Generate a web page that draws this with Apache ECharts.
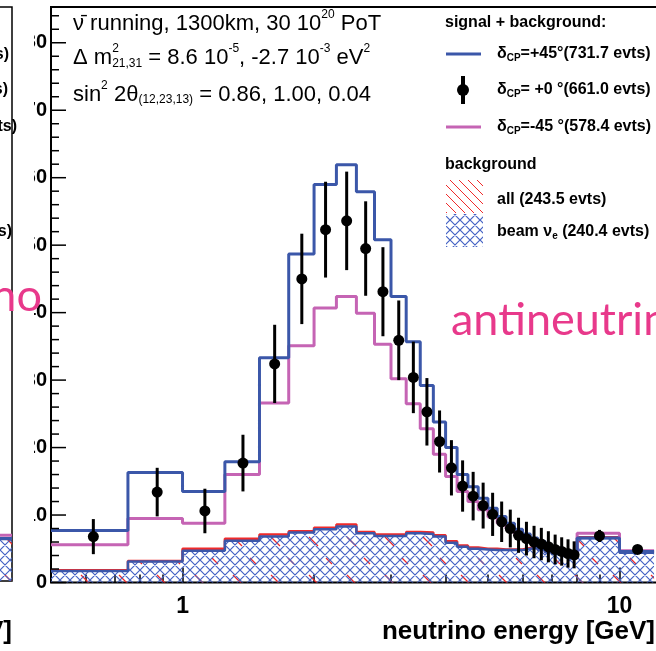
<!DOCTYPE html>
<html>
<head>
<meta charset="utf-8">
<script src="https://cdn.jsdelivr.net/npm/echarts@6/dist/echarts.min.js"></script>
<style>
  html, body { margin: 0; padding: 0; background: #fff; }
  #chart { width: 656px; height: 651px; }
</style>
</head>
<body>
<div id="chart"></div>
<script>
// bin edges [GeV]: 0.25 GeV bins up to 8, then two wide bins
const binEdges = [0.5, 0.75, 1.0, 1.25, 1.5, 1.75, 2.0, 2.25, 2.5, 2.75, 3.0, 3.25, 3.5, 3.75, 4.0,
  4.25, 4.5, 4.75, 5.0, 5.25, 5.5, 5.75, 6.0, 6.25, 6.5, 6.75, 7.0, 7.25, 7.5, 7.75, 8.0, 10, 12];

// signal + background, dCP = +45 (blue)
const sigPlus45 = [7.7, 16.3, 13.5, 17.9, 33.3, 48.7, 59.0, 61.9, 57.9, 50.8,
  42.4, 35.7, 29.2, 23.8, 20.0, 16.0, 14.2, 12.5, 11.0, 9.8,
  8.8, 7.9, 7.2, 6.6, 6.1, 5.6, 5.2, 4.8, 4.5, 4.2, 6.6, 4.6];
// signal + background, dCP = -45 (pink)
const sigMinus45 = [5.6, 9.5, 8.8, 16.0, 26.6, 35.1, 40.7, 42.4, 39.9, 35.3,
  30.2, 26.5, 22.8, 19.0, 15.7, 13.5, 12.0, 10.8, 9.7, 8.8,
  8.0, 7.2, 6.6, 6.1, 5.7, 5.3, 4.9, 4.6, 4.4, 4.2, 7.3, 4.7];
// dCP = 0, drawn as points with error bars
const sigZero = [6.8, 13.4, 10.6, 17.7, 32.4, 45.0, 52.3, 53.6, 49.5, 43.1,
  35.9, 30.4, 25.3, 20.9, 17.0, 14.3, 12.8, 11.4, 10.1, 9.0,
  8.0, 7.0, 6.5, 6.0, 5.7, 5.3, 4.9, 4.6, 4.3, 4.1, 6.9, 4.9];
const sigZeroErr = [2.6, 3.6, 3.3, 4.2, 5.8, 6.7, 7.1, 7.3, 7.0, 6.6,
  5.9, 5.3, 5.0, 4.6, 4.1, 3.8, 3.6, 3.4, 3.2, 3.0,
  2.8, 2.6, 2.5, 2.4, 2.4, 2.3, 2.2, 2.1, 2.1, 2.0, 0.9, 0.6];
// backgrounds
const bgAll = [1.8, 3.2, 5.0, 6.5, 7.1, 7.6, 8.1, 8.6, 7.5, 7.1,
  7.1, 7.5, 7.4, 7.0, 6.1, 5.5, 5.2, 5.0, 5.0, 4.9,
  4.9, 4.9, 5.1, 5.2, 4.9, 4.6, 4.3, 4.1, 3.9, 3.7, 6.7, 4.6];
const bgBeamNue = [1.7, 3.1, 4.7, 6.2, 6.8, 7.4, 7.9, 8.3, 7.3, 6.9,
  6.9, 7.3, 7.2, 6.8, 5.9, 5.3, 5.0, 4.9, 4.8, 4.8,
  4.8, 4.8, 5.0, 5.1, 4.8, 4.5, 4.2, 4.0, 3.8, 3.6, 6.6, 4.4];

// neighbouring (neutrino) panel, only its last bin shows
const leftEdges = [12, 20];
const leftSigPlus45 = [6.3];
const leftSigMinus45 = [6.8];
const leftBgAll = [6.4];
const leftBgBeamNue = [6.2];

const xMajorTicks = [1, 10];
const xMinorTicks = [0.6, 0.7, 0.8, 0.9, 2, 3, 4, 5, 6, 7, 8, 9, 20];
const yMajorTicks = [0, 10, 20, 30, 40, 50, 60, 70, 80];
const yMinorTicks = [2, 4, 6, 8, 12, 14, 16, 18, 22, 24, 26, 28, 32, 34, 36, 38, 42, 44, 46, 48,
  52, 54, 56, 58, 62, 64, 66, 68, 72, 74, 76, 78, 82, 84];
const yMax = 85.3;

const BLUE = '#3b57a9';
const PINK = '#c564b4';
const RED = '#f02a2a';
const HATCH_BLUE = '#4563c4';
const FONT = "'Liberation Sans', Arial, sans-serif";

// hatch patterns
function hatch(size, color, width, back, fwd) {
  const c = document.createElement('canvas');
  c.width = size; c.height = size;
  const g = c.getContext('2d');
  g.strokeStyle = color;
  g.lineWidth = width;
  g.beginPath();
  if (back) {
    g.moveTo(-1, -1); g.lineTo(size + 1, size + 1);
    g.moveTo(-1, size - 1); g.lineTo(1, size + 1);
    g.moveTo(size - 1, -1); g.lineTo(size + 1, 1);
  }
  if (fwd) {
    g.moveTo(-1, size + 1); g.lineTo(size + 1, -1);
    g.moveTo(-1, 1); g.lineTo(1, -1);
    g.moveTo(size - 1, size + 1); g.lineTo(size + 1, size - 1);
  }
  g.stroke();
  return { image: c, repeat: 'repeat' };
}
// red hatch mostly hidden under the cross-hatch: only short pieces show
function brokenHatch(size, color) {
  const c = document.createElement('canvas');
  c.width = size; c.height = size;
  const g = c.getContext('2d');
  g.strokeStyle = color;
  g.lineWidth = 1.3;
  g.beginPath();
  g.moveTo(5, 5); g.lineTo(14, 14);
  g.moveTo(22, 26); g.lineTo(28, 32);
  g.stroke();
  return { image: c, repeat: 'repeat' };
}
const redHatch = hatch(9, RED, 1, true, false);
const redHatchHidden = brokenHatch(38, RED);
const blueCross = hatch(10, HATCH_BLUE, 1.2, true, true);

function stepPoints(edges, vals) {
  const pts = vals.map((v, i) => [Math.log10(edges[i]), v]);
  pts.push([Math.log10(edges[edges.length - 1]), vals[vals.length - 1]]);
  return pts;
}

function hist(edges, vals, color, width, xi, yi, z, fill) {
  const s = {
    type: 'line', step: 'end', xAxisIndex: xi, yAxisIndex: yi,
    data: stepPoints(edges, vals), symbol: 'none', silent: true, z: z,
    lineStyle: { color: color, width: width }, itemStyle: { color: color }
  };
  if (fill) s.areaStyle = { color: fill, opacity: 1 };
  return s;
}

const measure = document.createElement('canvas').getContext('2d');
function textWidth(str, font) {
  measure.font = font;
  return measure.measureText(str).width;
}

const xMin = Math.log10(0.5), xMax = Math.log10(20);

const pointData = sigZero.map((v, i) => [Math.log10((binEdges[i] + binEdges[i + 1]) / 2), v, sigZeroErr[i]]);

const chart = echarts.init(document.getElementById('chart'));

const tickStyle = { color: '#000', width: 1.5 };

const infoRich = {
  t: { fontFamily: FONT, fontSize: 22, fill: '#000', lineHeight: 26, verticalAlign: 'bottom' },
  sup: { fontFamily: FONT, fontSize: 12, fill: '#000', lineHeight: 12, verticalAlign: 'top' },
  sub: { fontFamily: FONT, fontSize: 12, fill: '#000', lineHeight: 8, verticalAlign: 'bottom' }
};
// stacked super/subscript on m
const subFont = '12px ' + FONT;
const mWidth = textWidth('Δ m', '22px ' + FONT);
const stackGap = Math.max(0, textWidth('21,31', subFont) - textWidth('2', subFont));
infoRich.gap = { width: stackGap, lineHeight: 26 };

const legendRich = {
  b: { font: 'bold 16px ' + FONT, fill: '#000' },
  s: { font: 'bold 10px ' + FONT, fill: '#000', padding: [8, 0, 0, 0] }
};

const graphics = [
  // the neighbouring picture overlaps the first digits of the y labels
  { type: 'rect', z: 1, shape: { x: 13, y: 0, width: 21, height: 651 }, style: { fill: '#fff' } },
  // info text, top left
  {
    type: 'text', x: 73, y: 9, z: 20,
    style: { text: '{t|ν̄ running, 1300km, 30 10}{sup|20}{t| PoT}', rich: infoRich }
  },
  {
    type: 'text', x: 73, y: 43, z: 20,
    style: { text: '{t|Δ m}{sup|2}{gap|}{t| = 8.6 10}{sup|-5}{t|, -2.7 10}{sup|-3}{t| eV}{sup|2}', rich: infoRich }
  },
  {
    type: 'text', x: 73 + mWidth, y: 64, z: 20,
    style: { text: '21,31', font: subFont, fill: '#000', verticalAlign: 'middle' }
  },
  {
    type: 'text', x: 73, y: 80, z: 20,
    style: { text: '{t|sin}{sup|2}{t| 2θ}{sub|(12,23,13)}{t| = 0.86, 1.00, 0.04}', rich: infoRich }
  },
  // legend
  { type: 'text', x: 445, y: 23, z: 20, style: { text: 'signal + background:', font: 'bold 16px ' + FONT, fill: '#000', verticalAlign: 'middle' } },
  { type: 'line', z: 20, shape: { x1: 446, y1: 54, x2: 481, y2: 54 }, style: { stroke: BLUE, lineWidth: 3 } },
  { type: 'text', x: 497, y: 54, z: 20, style: { text: '{b|δ}{s|CP}{b|=+45°(731.7 evts)}', verticalAlign: 'middle', rich: legendRich } },
  { type: 'line', z: 20, shape: { x1: 463, y1: 76, x2: 463, y2: 104 }, style: { stroke: '#000', lineWidth: 4 } },
  { type: 'circle', z: 20, shape: { cx: 463, cy: 90, r: 6 }, style: { fill: '#000' } },
  { type: 'text', x: 497, y: 90, z: 20, style: { text: '{b|δ}{s|CP}{b|= +0 °(661.0 evts)}', verticalAlign: 'middle', rich: legendRich } },
  { type: 'line', z: 20, shape: { x1: 446, y1: 127, x2: 481, y2: 127 }, style: { stroke: PINK, lineWidth: 3 } },
  { type: 'text', x: 497, y: 127, z: 20, style: { text: '{b|δ}{s|CP}{b|=-45 °(578.4 evts)}', verticalAlign: 'middle', rich: legendRich } },
  { type: 'text', x: 445, y: 165, z: 20, style: { text: 'background', font: 'bold 16px ' + FONT, fill: '#000', verticalAlign: 'middle' } },
  { type: 'rect', z: 20, shape: { x: 446, y: 180, width: 37, height: 33 }, style: { fill: redHatch } },
  { type: 'text', x: 497, y: 200, z: 20, style: { text: 'all (243.5 evts)', font: 'bold 16px ' + FONT, fill: '#000', verticalAlign: 'middle' } },
  { type: 'rect', z: 20, shape: { x: 446, y: 214, width: 37, height: 33 }, style: { fill: blueCross } },
  { type: 'text', x: 497, y: 232, z: 20, style: { text: '{b|beam ν}{s|e}{b| (240.4 evts)}', verticalAlign: 'middle', rich: legendRich } },
  // axis title
  { type: 'text', x: 655, y: 632, z: 20, style: { text: 'neutrino energy [GeV]', font: 'bold 26px ' + FONT, fill: '#000', align: 'right', verticalAlign: 'middle' } },
  // fragments of the neighbouring panel
  { type: 'text', x: 12, y: 632, z: 20, style: { text: 'neutrino energy [GeV]', font: 'bold 26px ' + FONT, fill: '#000', align: 'right', verticalAlign: 'middle' } },
  { type: 'text', x: 9, y: 55, z: 20, style: { text: '(781.4 evts)', font: 'bold 16px ' + FONT, fill: '#000', align: 'right', verticalAlign: 'middle' } },
  { type: 'text', x: 8, y: 90, z: 20, style: { text: '(670.0 evts)', font: 'bold 16px ' + FONT, fill: '#000', align: 'right', verticalAlign: 'middle' } },
  { type: 'text', x: 17, y: 127, z: 20, style: { text: '(560.5 evts)', font: 'bold 16px ' + FONT, fill: '#000', align: 'right', verticalAlign: 'middle' } },
  { type: 'text', x: 12, y: 232, z: 20, style: { text: '(150.4 evts)', font: 'bold 16px ' + FONT, fill: '#000', align: 'right', verticalAlign: 'middle' } },
  // slide labels
  { type: 'text', x: 42, y: 296, z: 30, style: { text: 'neutrino', font: '45px Lato, sans-serif', fill: '#e8398b', align: 'right', verticalAlign: 'middle' } },
  { type: 'text', x: 451, y: 320, z: 30, style: { text: 'antineutrino', font: '45px Lato, sans-serif', fill: '#e8398b', align: 'left', verticalAlign: 'middle' } }
];

const option = {
  animation: false,
  backgroundColor: '#fff',
  grid: [
    { left: 51, top: 7, right: -95, bottom: 68.5, show: true, borderColor: '#000', borderWidth: 2,
      backgroundColor: 'transparent', containLabel: false, outerBoundsMode: 'none' },
    { left: -688, top: 7, right: 644, bottom: 70, show: true, borderColor: '#000', borderWidth: 1.5,
      backgroundColor: 'transparent', containLabel: false, outerBoundsMode: 'none' }
  ],
  xAxis: [
    {
      gridIndex: 0, type: 'value', min: xMin, max: xMax, position: 'bottom',
      axisLine: { show: false, onZero: false }, splitLine: { show: false },
      axisTick: { show: true, inside: true, length: 15, lineStyle: tickStyle, customValues: xMajorTicks.map(Math.log10) },
      axisLabel: {
        customValues: xMajorTicks.map(Math.log10), margin: 13,
        formatter: v => String(Math.round(Math.pow(10, v))),
        color: '#000', fontFamily: FONT, fontWeight: 'bold', fontSize: 23
      }
    },
    {
      gridIndex: 0, type: 'value', min: xMin, max: xMax, position: 'bottom',
      axisLine: { show: false, onZero: false }, splitLine: { show: false }, axisLabel: { show: false },
      axisTick: { show: true, inside: true, length: 8, lineStyle: tickStyle, customValues: xMinorTicks.map(Math.log10) }
    },
    { gridIndex: 1, type: 'value', min: xMin, max: xMax, show: false, axisLine: { onZero: false } }
  ],
  yAxis: [
    {
      gridIndex: 0, type: 'value', min: 0, max: yMax, interval: 10, position: 'left',
      axisLine: { show: false, onZero: false }, splitLine: { show: false },
      axisTick: { show: false },
      axisLabel: {
        showMaxLabel: false, margin: 4, padding: [12, 0, 0, 0],
        color: '#000', fontFamily: FONT, fontWeight: 'bold', fontSize: 20
      }
    },
    { gridIndex: 1, type: 'value', min: 0, max: yMax, show: false, axisLine: { onZero: false } }
  ],
  series: [
    hist(binEdges, bgAll, RED, 2.5, 0, 0, 2, redHatchHidden),
    hist(binEdges, bgBeamNue, BLUE, 2.5, 0, 0, 3, blueCross),
    hist(binEdges, sigMinus45, PINK, 3, 0, 0, 4),
    hist(binEdges, sigPlus45, BLUE, 3, 0, 0, 5),
    {
      type: 'custom', xAxisIndex: 0, yAxisIndex: 0, z: 6, silent: true,
      data: pointData,
      renderItem: function (params, api) {
        const x = api.value(0), y = api.value(1), e = api.value(2);
        const p = api.coord([x, y]);
        const hi = api.coord([x, y + e]);
        const lo = api.coord([x, Math.max(0, y - e)]);
        return {
          type: 'group', children: [
            { type: 'line', shape: { x1: p[0], y1: hi[1], x2: p[0], y2: lo[1] }, style: { stroke: '#000', lineWidth: 3 } },
            { type: 'circle', shape: { cx: p[0], cy: p[1], r: 5.5 }, style: { fill: '#000' } }
          ]
        };
      }
    },
    hist(leftEdges, leftBgAll, RED, 2, 2, 1, 8, redHatchHidden),
    hist(leftEdges, leftBgBeamNue, BLUE, 2, 2, 1, 9, blueCross),
    hist(leftEdges, leftSigMinus45, PINK, 3, 2, 1, 10),
    hist(leftEdges, leftSigPlus45, BLUE, 3, 2, 1, 11)
  ],
  graphic: graphics
};

chart.setOption(option);

// inward y ticks (ROOT style), placed through the y axis scale
const yTicks = [];
function addTick(v, len) {
  const p = chart.convertToPixel({ gridIndex: 0 }, [xMin, v]);
  if (!p) return;
  yTicks.push({ type: 'line', z: 25, shape: { x1: p[0], y1: p[1], x2: p[0] + len, y2: p[1] }, style: { stroke: '#000', lineWidth: 1.5 } });
}
yMajorTicks.forEach(v => addTick(v, 15));
yMinorTicks.forEach(v => addTick(v, 8));
chart.setOption({ graphic: graphics.concat(yTicks) });
</script>
</body>
</html>
